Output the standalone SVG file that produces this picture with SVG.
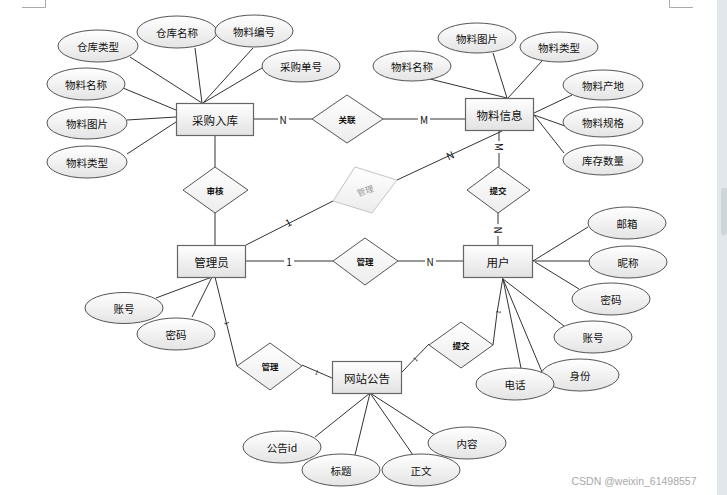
<svg xmlns="http://www.w3.org/2000/svg" width="727" height="495" viewBox="0 0 727 495">
<defs>
<linearGradient id="gE" x1="0" y1="0" x2="0" y2="1"><stop offset="0" stop-color="#ffffff"/><stop offset="1" stop-color="#e4e4e4"/></linearGradient>
<linearGradient id="gR" x1="0" y1="0" x2="0" y2="1"><stop offset="0" stop-color="#ffffff"/><stop offset="1" stop-color="#e2e2e2"/></linearGradient>
<linearGradient id="gD" x1="0" y1="0" x2="0" y2="1"><stop offset="0" stop-color="#ffffff"/><stop offset="1" stop-color="#ececec"/></linearGradient>
</defs>
<style>
text{font-family:"Noto Sans CJK SC","Liberation Sans",sans-serif;fill:#111;text-anchor:middle;dominant-baseline:central}
.e{fill:url(#gE);stroke:#555;stroke-width:1}
.r{fill:url(#gR);stroke:#666;stroke-width:1.2}
.d{fill:url(#gD);stroke:#555;stroke-width:1}
.ct{font-size:10.5px}
.rt{font-size:11.5px}
.dt{font-size:8.5px;font-weight:bold}
.c line,.c polyline{stroke:#333;stroke-width:1;fill:none}
.lb{font-size:10px;fill:#111}
.fr{stroke:#aaa;stroke-width:1;fill:none}
</style>
<rect width="727" height="495" fill="#ffffff"/>
<rect x="717" y="0" width="10" height="495" fill="#e1e7eb"/>
<rect x="721" y="188" width="6" height="47" rx="2" fill="#cfd6da"/>
<polyline class="fr" points="22,7.5 45.5,7.5 45.5,0"/>
<polyline class="fr" points="693,7.5 669.5,7.5 669.5,0"/>

<g id="connectors" class="c">
<line x1="130" y1="57" x2="202" y2="103"/>
<line x1="195" y1="48" x2="202" y2="103"/>
<line x1="253" y1="48" x2="203" y2="103"/>
<line x1="262" y1="68" x2="203" y2="103"/>
<line x1="123" y1="88" x2="176" y2="110"/>
<line x1="127" y1="120" x2="176" y2="117"/>
<line x1="127" y1="154" x2="176" y2="122"/>
<line x1="254" y1="119" x2="312" y2="119"/>
<line x1="383" y1="119" x2="465" y2="119"/>
<line x1="215" y1="135" x2="215" y2="167"/>
<line x1="215" y1="213" x2="215" y2="245"/>
<line x1="430" y1="79" x2="507" y2="98"/>
<line x1="493" y1="53" x2="507" y2="98"/>
<line x1="542" y1="61" x2="508" y2="98"/>
<line x1="572" y1="95" x2="534" y2="113"/>
<line x1="565" y1="126" x2="534" y2="115"/>
<line x1="564" y1="153" x2="534" y2="115"/>
<line x1="502" y1="131" x2="397" y2="180"/>
<line x1="499" y1="130" x2="499" y2="167"/>
<line x1="498" y1="213" x2="498" y2="246"/>
<line x1="246" y1="245" x2="333" y2="201"/>
<line x1="246" y1="261" x2="333" y2="261"/>
<line x1="398" y1="261" x2="463" y2="261"/>
<line x1="156" y1="298" x2="212" y2="277"/>
<line x1="192" y1="317" x2="212" y2="277"/>
<line x1="215" y1="277" x2="237" y2="366"/>
<line x1="302" y1="365" x2="332" y2="378"/>
<line x1="402" y1="372" x2="429" y2="344"/>
<polyline points="493,345 497,313 503,277"/>
<line x1="533" y1="261" x2="588" y2="227"/>
<line x1="533" y1="261" x2="589" y2="261"/>
<line x1="535" y1="262" x2="579" y2="289"/>
<line x1="503" y1="279" x2="564" y2="326"/>
<line x1="503" y1="279" x2="542" y2="372"/>
<line x1="503" y1="279" x2="521" y2="368"/>
<line x1="370" y1="393" x2="315" y2="437"/>
<line x1="370" y1="393" x2="355" y2="455"/>
<line x1="370" y1="393" x2="413" y2="455"/>
<line x1="370" y1="393" x2="435" y2="435"/>
</g>

<g id="labels">
<rect x="278" y="113" width="11" height="12" fill="#fff"/><text class="lb" x="283" y="119">N</text>
<rect x="418" y="113" width="12" height="12" fill="#fff"/><text class="lb" x="424" y="119">M</text>
<text class="lb" x="450" y="155" transform="rotate(-25 450 155)">N</text>
<rect x="494" y="141" width="10" height="12" fill="#fff"/><text class="lb" x="499" y="147" transform="rotate(90 499 147)">M</text>
<rect x="493" y="224" width="10" height="12" fill="#fff"/><text class="lb" x="498" y="230" transform="rotate(90 498 230)">N</text>
<text class="lb" x="288" y="222" transform="rotate(-27 288 222)">1</text>
<rect x="284" y="255" width="10" height="12" fill="#fff"/><text class="lb" x="289" y="261">1</text>
<rect x="425" y="255" width="11" height="12" fill="#fff"/><text class="lb" x="430" y="261">N</text>
<text class="lb" style="font-size:6px" x="227" y="323" transform="rotate(76 227 323)">1</text>
<text class="lb" style="font-size:6px" x="317" y="372" transform="rotate(23 317 372)">1</text>
<text class="lb" style="font-size:6px" x="415" y="359" transform="rotate(-46 415 359)">1</text>
<text class="lb" style="font-size:6px" x="498" y="312" transform="rotate(-82 498 312)">1</text>
</g>

<g id="e-cangkuleixing"><ellipse class="e" cx="98" cy="46" rx="40" ry="16"/><text class="ct" x="98" y="46">仓库类型</text></g>
<g id="e-cangkumingcheng"><ellipse class="e" cx="177" cy="32" rx="40" ry="16"/><text class="ct" x="177" y="32">仓库名称</text></g>
<g id="e-wuliaobianhao"><ellipse class="e" cx="254" cy="31" rx="39" ry="16"/><text class="ct" x="254" y="31">物料编号</text></g>
<g id="e-caigoudanhao"><ellipse class="e" cx="301" cy="66" rx="39" ry="16"/><text class="ct" x="301" y="66">采购单号</text></g>
<g id="e-wuliaomingcheng1"><ellipse class="e" cx="86" cy="84" rx="39" ry="16"/><text class="ct" x="86" y="84">物料名称</text></g>
<g id="e-wuliaotupian1"><ellipse class="e" cx="87" cy="123" rx="40" ry="16"/><text class="ct" x="87" y="123">物料图片</text></g>
<g id="e-wuliaoleixing1"><ellipse class="e" cx="87" cy="162" rx="40" ry="16"/><text class="ct" x="87" y="162">物料类型</text></g>

<g id="e-wuliaomingcheng2"><ellipse class="e" cx="412" cy="66" rx="39" ry="15"/><text class="ct" x="412" y="66">物料名称</text></g>
<g id="e-wuliaotupian2"><ellipse class="e" cx="477" cy="38" rx="39" ry="15"/><text class="ct" x="477" y="38">物料图片</text></g>
<g id="e-wuliaoleixing2"><ellipse class="e" cx="559" cy="47" rx="39" ry="15"/><text class="ct" x="559" y="47">物料类型</text></g>
<g id="e-wuliaochandi"><ellipse class="e" cx="603" cy="85" rx="40" ry="15"/><text class="ct" x="603" y="85">物料产地</text></g>
<g id="e-wuliaoguige"><ellipse class="e" cx="603" cy="122" rx="40" ry="15"/><text class="ct" x="603" y="122">物料规格</text></g>
<g id="e-kucunshuliang"><ellipse class="e" cx="603" cy="160" rx="40" ry="15"/><text class="ct" x="603" y="160">库存数量</text></g>

<g id="e-zhanghao1"><ellipse class="e" cx="124" cy="308" rx="39" ry="15.5"/><text class="ct" x="124" y="308">账号</text></g>
<g id="e-mima1"><ellipse class="e" cx="176" cy="334" rx="39" ry="16"/><text class="ct" x="176" y="334">密码</text></g>

<g id="e-youxiang"><ellipse class="e" cx="627" cy="223" rx="39" ry="16"/><text class="ct" x="627" y="223">邮箱</text></g>
<g id="e-nicheng"><ellipse class="e" cx="628" cy="262" rx="39" ry="16"/><text class="ct" x="628" y="262">昵称</text></g>
<g id="e-mima2"><ellipse class="e" cx="611" cy="299" rx="39" ry="16"/><text class="ct" x="611" y="299">密码</text></g>
<g id="e-zhanghao2"><ellipse class="e" cx="593" cy="337" rx="39" ry="16"/><text class="ct" x="593" y="337">账号</text></g>
<g id="e-shenfen"><ellipse class="e" cx="580" cy="375" rx="39" ry="16"/><text class="ct" x="580" y="375">身份</text></g>
<g id="e-dianhua"><ellipse class="e" cx="515" cy="384" rx="39" ry="16"/><text class="ct" x="515" y="384">电话</text></g>

<g id="e-gonggaoid"><ellipse class="e" cx="282" cy="447" rx="39" ry="16"/><text class="ct" x="282" y="447">公告id</text></g>
<g id="e-biaoti"><ellipse class="e" cx="341" cy="470" rx="39" ry="16"/><text class="ct" x="341" y="470">标题</text></g>
<g id="e-zhengwen"><ellipse class="e" cx="421" cy="470" rx="39" ry="16"/><text class="ct" x="421" y="470">正文</text></g>
<g id="e-neirong"><ellipse class="e" cx="467" cy="443" rx="39" ry="16"/><text class="ct" x="467" y="443">内容</text></g>

<g id="d-guanlian"><polygon class="d" points="312,119 347,95 383,119 347,143"/><text class="dt" x="347" y="119">关联</text></g>
<g id="d-shenhe"><polygon class="d" points="183,190 215,167 248,190 215,213"/><text class="dt" x="215" y="190">审核</text></g>
<g id="d-guanli-grey"><polygon points="333,201 355,167 397,180 372,213" fill="url(#gD)" stroke="#c4c4c4" stroke-width="1"/><text class="dt" style="fill:#999;font-weight:normal" x="365" y="190" transform="rotate(-18 365 190)">管理</text></g>
<g id="d-tijiao1"><polygon class="d" points="467,190 498,167 530,190 498,213"/><text class="dt" x="498" y="190">提交</text></g>
<g id="d-guanli1"><polygon class="d" points="333,261 365,238 398,261 365,285"/><text class="dt" x="365" y="261">管理</text></g>
<g id="d-guanli2"><polygon class="d" points="237,366 270,343 302,366 270,390"/><text class="dt" x="270" y="366">管理</text></g>
<g id="d-tijiao2"><polygon class="d" points="429,345 461,322 493,345 461,368"/><text class="dt" x="461" y="345">提交</text></g>

<g id="r-caigouruku"><rect class="r" x="176.5" y="103.5" width="77" height="32"/><text class="rt" x="215" y="119.5">采购入库</text></g>
<g id="r-wuliaoxinxi"><rect class="r" x="465.5" y="98.5" width="68" height="32"/><text class="rt" x="499.5" y="114.5">物料信息</text></g>
<g id="r-guanliyuan"><rect class="r" x="177.5" y="245.5" width="68" height="32"/><text class="rt" x="211.5" y="261.5">管理员</text></g>
<g id="r-yonghu"><rect class="r" x="463.5" y="245.5" width="69" height="32"/><text class="rt" x="498" y="261.5">用户</text></g>
<g id="r-wangzhangonggao"><rect class="r" x="332.5" y="361.5" width="69" height="32"/><text class="rt" x="367" y="377.5">网站公告</text></g>

<text x="634" y="481" style="font-size:10.5px;fill:#a8a8a8;font-family:'Liberation Sans',sans-serif">CSDN @weixin_61498557</text>
</svg>
